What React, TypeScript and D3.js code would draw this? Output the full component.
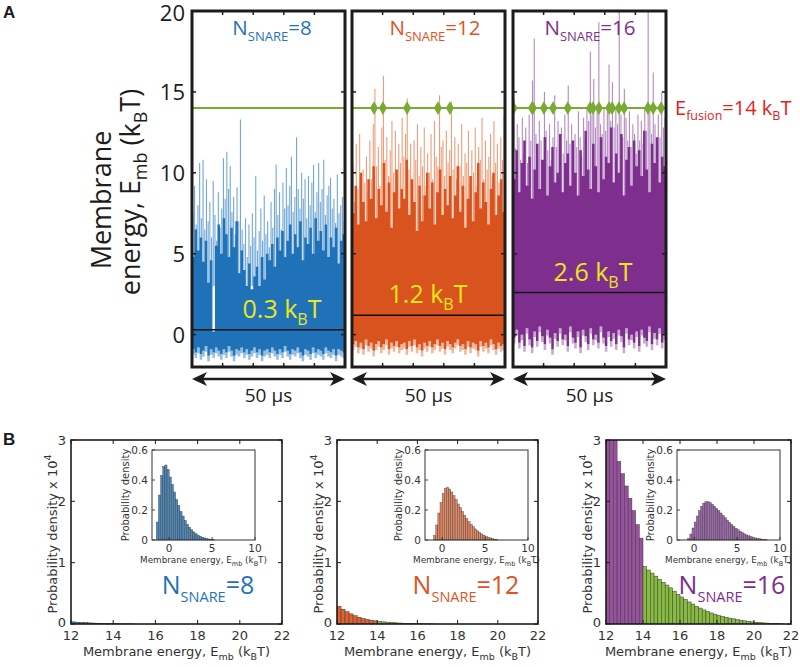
import React from 'react';
import * as d3 from 'd3';

// ---------------- DATA ----------------
const snareCounts = [8, 12, 16];
const meanEnergies = [0.3, 1.2, 2.6];
const fusionEnergy = 14;
const traceSpanUs = 50;
const energyTicks = [0, 5, 10, 15, 20];
const timeTicks = [10, 20, 30, 40];

// Panel A traces: tall excursions (peaks), dense body top, lower floor
const peaks8 = [
  7.5, 9.2, 6.8, 8.0, 10.6, 7.2, 10.8, 6.5, 9.6, 7.0,
  8.2, 6.0, 9.5, 7.4, 5.8, 8.8, 6.6, 7.8, 10.9, 8.4,
  11.3, 9.0, 10.4, 7.6, 8.5, 6.2, 9.1, 7.0, 13.3, 6.5,
  5.6, 7.2, 4.8, 6.8, 5.5, 7.5, 6.0, 9.8, 5.2, 6.4,
  7.8, 5.8, 8.6, 6.2, 7.0, 5.4, 8.2, 6.6, 9.0, 10.5,
  7.4, 8.8, 6.5, 9.4, 7.8, 10.3, 8.0, 9.2, 11.0, 7.6,
  8.5, 12.2, 9.0, 7.8, 10.0, 8.4, 9.6, 7.2, 9.8, 8.0,
  9.4, 10.5, 7.6, 8.8, 10.6, 8.2, 9.0, 10.8, 7.4, 8.6,
  9.2, 9.7, 7.8, 8.4, 6.9, 9.9, 7.5, 8.0, 8.5, 7.0,
];
const body8 = [
  4.8, 6.5, 5.2, 6.0, 4.5, 5.8, 3.2, 4.6, 0.2, 5.5,
  6.8, 5.0, 7.2, 6.2, 4.8, 6.6, 5.4, 7.0, 3.8, 5.2,
  4.0, 3.0, 4.4, 2.8, 3.6, 4.2, 3.0, 4.8, 3.4, 5.0,
  4.6, 5.6, 4.2, 6.0, 5.2, 6.4, 4.8, 5.8, 6.8, 5.0,
  6.2, 5.4, 7.0, 4.6, 6.0, 5.6, 6.6, 5.0, 7.2, 5.8,
  6.4, 5.2, 6.8, 4.8, 6.0, 5.4, 6.6, 4.4, 5.8, 6.2,
];
const floor8 = [
  -0.9, -1.1, -0.8, -1.2, -1.0, -0.7, -1.3, -0.9, -1.1, -0.8,
  -1.0, -1.2, -0.9, -1.1, -0.7, -1.0, -1.3, -0.9, -1.0, -0.8,
  -1.1, -0.9, -1.2, -1.0, -0.8, -1.1, -0.9, -1.3, -1.0, -0.9,
  -1.1, -0.8, -1.0, -1.2, -0.9, -1.1, -0.7, -1.0, -1.2, -0.9,
  -1.0, -0.8, -1.1, -1.3, -0.9, -1.0, -1.2, -0.8, -1.1, -0.9,
  -1.0, -1.2, -0.8, -1.0, -1.1, -0.9, -1.3, -0.9, -1.0, -1.1,
];
const peaks12 = [
  10.5, 8.2, 11.8, 9.0, 12.4, 8.6, 10.2, 9.4, 11.0, 8.8,
  12.0, 9.6, 13.0, 15.2, 10.4, 11.6, 9.2, 12.8, 16.0, 10.8,
  12.2, 9.8, 11.4, 13.2, 10.0, 12.6, 9.4, 11.8, 10.6, 13.4,
  11.0, 12.4, 14.6, 10.2, 11.8, 9.6, 12.0, 10.8, 13.0, 9.8,
  11.6, 10.4, 12.8, 9.2, 11.2, 10.0, 12.4, 9.6, 13.2, 11.0,
  10.4, 14.8, 11.6, 12.0, 9.8, 12.6, 10.6, 11.4, 14.4, 10.2,
  12.2, 9.6, 11.8, 10.4, 13.0, 9.8, 11.2, 10.6, 12.6, 9.4,
  11.4, 10.0, 12.8, 9.2, 11.6, 10.8, 13.4, 9.6, 12.0, 10.2,
  11.0, 12.4, 9.8, 13.2, 10.6, 11.8, 9.4, 12.2, 10.8, 13.6,
];
const body12 = [
  7.5, 9.2, 6.8, 10.0, 8.2, 7.0, 9.6, 8.4, 10.4, 7.2,
  9.0, 8.0, 10.6, 7.6, 9.4, 6.6, 8.8, 10.2, 7.8, 9.0,
  8.4, 10.8, 7.4, 9.6, 8.2, 6.4, 9.2, 7.0, 8.6, 10.0,
  7.8, 9.4, 6.8, 8.8, 10.2, 7.4, 9.0, 8.0, 9.8, 7.2,
  8.6, 10.4, 7.6, 9.2, 6.6, 8.4, 9.8, 7.0, 8.8, 10.6,
  7.8, 9.4, 8.2, 6.8, 9.0, 10.0, 7.4, 8.6, 9.6, 7.6,
];
const floor12 = [
  -0.6, -0.4, -0.8, -0.5, -0.9, -0.3, -0.7, -0.5, -1.0, -0.6,
  -0.4, -0.8, -0.6, -0.3, -0.9, -0.5, -0.7, -0.4, -0.8, -0.6,
  -0.5, -0.9, -0.4, -0.7, -0.3, -0.8, -0.6, -1.0, -0.5, -0.7,
  -0.4, -0.8, -0.6, -0.3, -0.7, -0.5, -0.9, -0.4, -0.6, -0.8,
  -0.5, -0.3, -0.7, -0.6, -0.9, -0.4, -0.8, -0.5, -0.6, -1.0,
  -0.4, -0.7, -0.5, -0.8, -0.3, -0.6, -0.9, -0.5, -0.7, -0.6,
];
const peaks16 = [
  14.6, 11.5, 13.0, 12.2, 10.8, 13.4, 11.2, 12.8, 10.6, 13.6,
  12.0, 15.7, 18.3, 12.4, 11.0, 13.2, 12.0, 10.4, 15.0, 12.6,
  11.4, 13.0, 10.8, 12.2, 14.8, 11.6, 13.2, 10.6, 12.8, 11.2,
  13.6, 12.0, 15.4, 11.8, 13.0, 10.8, 12.4, 11.6, 13.8, 12.2,
  11.0, 13.4, 12.0, 14.0, 13.2, 17.5, 13.6, 15.8, 12.8, 14.2,
  19.3, 13.0, 12.4, 14.0, 12.6, 13.8, 16.7, 13.2, 15.6, 12.8,
  14.0, 13.0, 20.5, 13.6, 12.2, 15.2, 13.4, 12.0, 13.8, 11.6,
  13.0, 12.4, 11.2, 13.6, 12.0, 13.2, 11.8, 14.0, 12.6, 20.5,
  13.8, 12.4, 16.2, 13.0, 11.8, 13.6, 12.2, 15.0, 12.8, 13.4,
];
const body16 = [
  9.6, 11.4, 8.8, 10.6, 12.0, 9.2, 11.0, 8.4, 10.2, 11.8,
  9.0, 10.8, 12.2, 8.6, 10.4, 11.6, 9.4, 10.0, 12.4, 8.8,
  10.6, 11.2, 9.2, 12.0, 10.0, 8.6, 11.4, 9.8, 12.6, 10.2,
  9.0, 11.8, 10.4, 8.8, 12.2, 9.6, 11.0, 10.6, 12.8, 9.4,
  11.2, 10.0, 12.4, 8.6, 10.8, 11.6, 9.2, 12.0, 10.4, 11.4,
  9.8, 12.6, 10.2, 8.8, 11.8, 10.6, 12.2, 9.4, 11.0, 10.4,
];
const floor16 = [
  -0.2, 0.3, -0.5, 0.0, -0.7, 0.4, -0.3, -0.8, 0.2, -0.4,
  0.5, -0.1, -0.6, 0.3, -0.2, -0.9, 0.1, -0.4, 0.4, -0.3,
  0.0, -0.7, 0.5, -0.2, -0.5, 0.2, -0.8, 0.3, -0.1, -0.6,
  0.4, -0.3, 0.0, -0.5, 0.5, -0.2, -0.7, 0.2, -0.4, 0.1,
  -0.6, 0.3, -0.1, -0.8, 0.4, -0.3, 0.0, -0.5, 0.2, -0.7,
  0.3, -0.2, -0.4, 0.5, -0.6, 0.1, -0.3, 0.4, -0.5, 0.0,
];
// fusion events (time in µs where E crosses E_fusion)
const fusionTimes8: number[] = [];
const fusionTimes12 = [7.2, 10.1, 18.0, 28.1, 32.0];
const fusionTimes16 = [0.2, 6.2, 6.5, 10.1, 13.1, 17.9, 25.2, 26.1, 28.1, 31.4, 32.4, 34.6, 36.3, 44.1, 45.8, 48.4];

// Panel B: tail histograms (x 10^4), bins of 0.2 kBT starting at 12
const tailStart = 12;
const tailBin = 0.2;
const tail8 = [0.035, 0.03, 0.026, 0.022, 0.018, 0.015, 0.012, 0.01, 0.008, 0.006, 0.005, 0.004, 0.003, 0.002, 0.0015];
const tail12 = [
  0.29, 0.24, 0.2, 0.165, 0.135, 0.11, 0.09, 0.075, 0.062, 0.052,
  0.043, 0.036, 0.03, 0.025, 0.02, 0.016, 0.013, 0.01, 0.008, 0.006,
  0.005, 0.004, 0.003, 0.002,
];
const tail16 = [
  4.0, 3.5, 3.1, 2.65, 2.45, 2.25, 2.05, 1.85, 1.62, 1.4,
  0.94, 0.88, 0.83, 0.78, 0.73, 0.68, 0.635, 0.59, 0.535, 0.485,
  0.44, 0.4, 0.36, 0.325, 0.29, 0.26, 0.23, 0.205, 0.18, 0.16,
  0.14, 0.125, 0.11, 0.095, 0.085, 0.073, 0.062, 0.052, 0.044, 0.036,
  0.03, 0.024, 0.019, 0.015, 0.011, 0.008, 0.006, 0.004,
];
const tailTicksX = [12, 14, 16, 18, 20, 22];
const tailTicksY = [0, 1, 2, 3];

// Insets: full distributions, bins of 0.25 kBT
const insetBin = 0.25;
const insetStarts = [-1.5, -1.0, -0.75];
const inset8 = [
  0.12, 0.3, 0.43, 0.49, 0.5, 0.47, 0.42, 0.37, 0.32, 0.27,
  0.23, 0.19, 0.16, 0.13, 0.105, 0.085, 0.068, 0.054, 0.042, 0.033,
  0.025, 0.019, 0.014, 0.01, 0.007, 0.005, 0.003,
];
const inset12 = [
  0.03, 0.1, 0.18, 0.25, 0.31, 0.345, 0.35, 0.34, 0.32, 0.295,
  0.27, 0.24, 0.215, 0.19, 0.165, 0.143, 0.122, 0.104, 0.088, 0.074,
  0.061, 0.05, 0.04, 0.032, 0.025, 0.019, 0.014, 0.01, 0.006, 0.004,
];
const inset16 = [
  0.01, 0.04, 0.08, 0.12, 0.16, 0.195, 0.225, 0.245, 0.255, 0.255,
  0.248, 0.238, 0.225, 0.21, 0.195, 0.18, 0.164, 0.148, 0.133, 0.118,
  0.104, 0.091, 0.079, 0.068, 0.058, 0.049, 0.041, 0.034, 0.028, 0.023,
  0.018, 0.014, 0.011, 0.008, 0.006, 0.004, 0.002,
];
const insetTicksX = [0, 5, 10];
const insetTicksY = [0, 0.2, 0.4, 0.6];

// ---------------- STYLE / LAYOUT ----------------
const colors = ['#1f72b8', '#d9531e', '#7e2f8e'];
const peakColors = ['#4f93cf', '#e8875a', '#a36db3'];
const labelColors = ['#1f72b8', '#e0531e', '#7e2f8e'];
const tailColors = ['#2f7fc0', '#e2622f', '#98509f'];
const insetColors = ['#4f88b8', '#e08763', '#9c6aa8'];
const green = '#77ac30';
const tailGreen = '#86bd3e';
const yellow = '#ece61a';
const red = '#e2231a';
const ink = '#1c1c1c';
const fontA = "'Open Sans', sans-serif";
const fontB = "'DejaVu Sans', sans-serif";

const aLeft = [192, 352, 513];
const aWidth = 153;
const aTop = 11;
const aBottom = 367;
const labelCentersA = [272, 435, 590];
const meanLabelCenters = [282, 428, 593];

const bBoxes = [
  { x0: 71, x1: 282 },
  { x0: 337, x1: 538 },
  { x0: 606, x1: 791 },
];
const bTop = 440;
const bBottom = 624;
const insetBoxes = [
  { x0: 152, x1: 255 },
  { x0: 425, x1: 528 },
  { x0: 677, x1: 780 },
];
const insetTop = 450;
const insetBottom = 540;
const labelCentersB = [208, 466, 732];

const traces = [
  { peaks: peaks8, body: body8, floor: floor8, events: fusionTimes8 },
  { peaks: peaks12, body: body12, floor: floor12, events: fusionTimes12 },
  { peaks: peaks16, body: body16, floor: floor16, events: fusionTimes16 },
];
const tails = [tail8, tail12, tail16];
const insets = [inset8, inset12, inset16];

const yA = d3.scaleLinear().domain([-2, 20]).range([aBottom, aTop]);

function TracePanel({ k }: { k: number }) {
  const x0 = aLeft[k];
  const x1 = x0 + aWidth;
  const { peaks, body, floor, events } = traces[k];
  const xt = d3.scaleLinear().domain([0, traceSpanUs]).range([x0, x1]);
  const xp = d3.scaleLinear().domain([0, peaks.length]).range([x0, x1]);
  const xb = d3.scaleLinear().domain([0, body.length]).range([x0, x1]);
  const idx = d3.range(body.length + 1);
  const at = (arr: number[], i: number) => arr[Math.min(i, arr.length - 1)];
  const area = d3
    .area<number>()
    .x((i) => xb(i))
    .y0((i) => yA(at(floor, i)))
    .y1((i) => yA(at(body, i)))
    .curve(d3.curveStepAfter);
  const fringe = d3
    .area<number>()
    .x((i) => xb(i))
    .y0((i) => yA(at(floor, i) - 0.35))
    .y1((i) => yA(at(floor, i)))
    .curve(d3.curveStepAfter);
  const diamond = d3.symbol().type(d3.symbolDiamond).size(55)() as string;
  const clipId = `clipA${k}`;
  return (
    <g>
      <defs>
        <clipPath id={clipId}>
          <rect x={x0} y={aTop} width={aWidth} height={aBottom - aTop} />
        </clipPath>
      </defs>
      <g clipPath={`url(#${clipId})`}>
        {peaks.map((v, i) => (
          <line
            key={i}
            x1={xp(i + 0.5)}
            x2={xp(i + 0.5)}
            y1={yA(3)}
            y2={yA(v)}
            stroke={peakColors[k]}
            strokeWidth={1.1}
            opacity={0.8}
          />
        ))}
        <path d={fringe(idx) as string} fill={peakColors[k]} opacity={0.6} />
        <path d={area(idx) as string} fill={colors[k]} />
        <line x1={x0} x2={x1} y1={yA(meanEnergies[k])} y2={yA(meanEnergies[k])} stroke="#111" strokeWidth={1.6} />
        <line x1={x0} x2={x1} y1={yA(fusionEnergy)} y2={yA(fusionEnergy)} stroke={green} strokeWidth={2} />
        {events.map((t, i) => (
          <path key={i} d={diamond} transform={`translate(${xt(t)},${yA(fusionEnergy)})`} fill={green} />
        ))}
      </g>
      {energyTicks.slice(0, 4).map((v) => (
        <g key={'yt' + v}>
          <line x1={x0} x2={x0 + 4} y1={yA(v)} y2={yA(v)} stroke={ink} strokeWidth={1.5} />
          <line x1={x1 - 4} x2={x1} y1={yA(v)} y2={yA(v)} stroke={ink} strokeWidth={1.5} />
        </g>
      ))}
      {timeTicks.map((t) => (
        <g key={'xt' + t}>
          <line x1={xt(t)} x2={xt(t)} y1={aTop} y2={aTop + 4} stroke={ink} strokeWidth={1.5} />
          <line x1={xt(t)} x2={xt(t)} y1={aBottom - 4} y2={aBottom} stroke={ink} strokeWidth={1.5} />
        </g>
      ))}
      <rect x={x0} y={aTop} width={aWidth} height={aBottom - aTop} fill="none" stroke={ink} strokeWidth={3} />
      <text x={labelCentersA[k]} y={35} textAnchor="middle" fontFamily={fontA} fontSize={20.5} fill={labelColors[k]}>
        N<tspan fontSize={13} dy={6}>SNARE</tspan>
        <tspan dy={-6}>={snareCounts[k]}</tspan>
      </text>
      <text x={meanLabelCenters[k]} y={yA(meanEnergies[k]) - 12} textAnchor="middle" fontFamily={fontA} fontSize={25} fill={yellow}>
        {meanEnergies[k].toFixed(1)} k<tspan fontSize={16} dy={7}>B</tspan>
        <tspan dy={-7}>T</tspan>
      </text>
      <line x1={x0 + 8} x2={x1 - 8} y1={379} y2={379} stroke={ink} strokeWidth={2.5} />
      <path d={`M${x0},379 L${x0 + 15},372 L${x0 + 11},379 L${x0 + 15},386 Z`} fill={ink} />
      <path d={`M${x1},379 L${x1 - 15},372 L${x1 - 11},379 L${x1 - 15},386 Z`} fill={ink} />
      <text x={(x0 + x1) / 2} y={402} textAnchor="middle" fontFamily={fontA} fontSize={19} fill={ink}>
        {traceSpanUs} µs
      </text>
    </g>
  );
}

function TailPanel({ k }: { k: number }) {
  const { x0, x1 } = bBoxes[k];
  const x = d3.scaleLinear().domain([12, 22]).range([x0, x1]);
  const y = d3.scaleLinear().domain([0, 3]).range([bBottom, bTop]);
  const clipId = `clipB${k}`;
  const ib = insetBoxes[k];
  const xi = d3.scaleLinear().domain([-2, 10]).range([ib.x0, ib.x1]);
  const yi = d3.scaleLinear().domain([0, 0.6]).range([insetBottom, insetTop]);
  const bx = (x0 + x1) / 2;
  return (
    <g>
      <defs>
        <clipPath id={clipId}>
          <rect x={x0} y={bTop} width={x1 - x0} height={bBottom - bTop} />
        </clipPath>
      </defs>
      <rect x={x0} y={bTop} width={x1 - x0} height={bBottom - bTop} fill="#fff" />
      <g clipPath={`url(#${clipId})`}>
        {tails[k].map((v, i) => {
          const a = tailStart + i * tailBin;
          const isFusion = a >= fusionEnergy - 1e-9;
          return (
            <rect
              key={i}
              x={x(a)}
              width={x(a + tailBin) - x(a)}
              y={y(v)}
              height={bBottom - y(v)}
              fill={isFusion ? tailGreen : tailColors[k]}
              stroke="#3a3a3a"
              strokeWidth={0.5}
            />
          );
        })}
      </g>
      {tailTicksY.map((v) => (
        <g key={'y' + v}>
          <line x1={x0} x2={x0 + 4} y1={y(v)} y2={y(v)} stroke={ink} />
          <line x1={x1 - 4} x2={x1} y1={y(v)} y2={y(v)} stroke={ink} />
          <text x={x0 - 5} y={y(v) - (v === 0 ? 2 : 0)} dy="0.36em" textAnchor="end" fontFamily={fontB} fontSize={13} fill="#333">
            {v}
          </text>
        </g>
      ))}
      {tailTicksX.map((v) => (
        <g key={'x' + v}>
          <line x1={x(v)} x2={x(v)} y1={bBottom} y2={bBottom - 4} stroke={ink} />
          <line x1={x(v)} x2={x(v)} y1={bTop} y2={bTop + 4} stroke={ink} />
          <text x={x(v)} y={640} textAnchor="middle" fontFamily={fontB} fontSize={13} fill="#333">
            {v}
          </text>
        </g>
      ))}
      <rect x={x0} y={bTop} width={x1 - x0} height={bBottom - bTop} fill="none" stroke={ink} strokeWidth={1.6} />
      <text x={bx} y={656} textAnchor="middle" fontFamily={fontB} fontSize={13} fill="#333">
        Membrane energy, E<tspan fontSize={9.5} dy={4}>mb</tspan>
        <tspan dy={-4}> (k</tspan>
        <tspan fontSize={9.5} dy={4}>B</tspan>
        <tspan dy={-4}>T)</tspan>
      </text>
      <text transform={`translate(${x0 - 14},${(bTop + bBottom) / 2 + 2}) rotate(-90)`} textAnchor="middle" fontFamily={fontB} fontSize={13} fill="#333">
        Probability density x 10<tspan fontSize={9.5} dy={-6}>4</tspan>
      </text>
      <rect x={ib.x0} y={insetTop} width={ib.x1 - ib.x0} height={insetBottom - insetTop} fill="#fff" />
      {insets[k].map((v, i) => {
        const a = insetStarts[k] + i * insetBin;
        return (
          <rect
            key={i}
            x={xi(a)}
            width={xi(a + insetBin) - xi(a)}
            y={yi(v)}
            height={insetBottom - yi(v)}
            fill={insetColors[k]}
            stroke="#2e2e2e"
            strokeWidth={0.35}
          />
        );
      })}
      {insetTicksY.map((v) => (
        <g key={'iy' + v}>
          <line x1={ib.x0} x2={ib.x0 + 3} y1={yi(v)} y2={yi(v)} stroke={ink} strokeWidth={0.8} />
          <text x={ib.x0 - 4} y={yi(v)} dy="0.36em" textAnchor="end" fontFamily={fontB} fontSize={10.5} fill="#333">
            {v}
          </text>
        </g>
      ))}
      {insetTicksX.map((v) => (
        <g key={'ix' + v}>
          <line x1={xi(v)} x2={xi(v)} y1={insetBottom} y2={insetBottom - 3} stroke={ink} strokeWidth={0.8} />
          <text x={xi(v)} y={insetBottom + 12} textAnchor="middle" fontFamily={fontB} fontSize={10.5} fill="#333">
            {v}
          </text>
        </g>
      ))}
      <rect x={ib.x0} y={insetTop} width={ib.x1 - ib.x0} height={insetBottom - insetTop} fill="none" stroke="#333" strokeWidth={1} />
      <text x={(ib.x0 + ib.x1) / 2} y={insetBottom + 23} textAnchor="middle" fontFamily={fontB} fontSize={8.8} fill="#333">
        Membrane energy, E<tspan fontSize={6.5} dy={3}>mb</tspan>
        <tspan dy={-3}> (k</tspan>
        <tspan fontSize={6.5} dy={3}>B</tspan>
        <tspan dy={-3}>T)</tspan>
      </text>
      <text transform={`translate(${ib.x0 - 23},${(insetTop + insetBottom) / 2}) rotate(-90)`} textAnchor="middle" fontFamily={fontB} fontSize={10} fill="#333">
        Probability density
      </text>
      <text x={labelCentersB[k]} y={594} textAnchor="middle" fontFamily={fontA} fontSize={25} fill={labelColors[k]}>
        N<tspan fontSize={14.5} dy={8}>SNARE</tspan>
        <tspan dy={-8}>={snareCounts[k]}</tspan>
      </text>
    </g>
  );
}

export default function App() {
  return (
    <svg
      width={800}
      height={667}
      viewBox="0 0 800 667"
      style={{ position: 'absolute', left: 0, top: 0, background: '#fff' }}
    >
      <rect x={0} y={0} width={800} height={667} fill="#fff" />
      <text x={3} y={18} fontFamily="'Liberation Sans', Arial, sans-serif" fontWeight="bold" fontSize={17} fill={ink}>
        A
      </text>
      <text x={3} y={445} fontFamily="'Liberation Sans', Arial, sans-serif" fontWeight="bold" fontSize={17} fill={ink}>
        B
      </text>
      {energyTicks.map((v) => (
        <text key={v} x={185} y={yA(v) + (v === 20 ? 2 : 0)} dy="0.36em" textAnchor="end" fontFamily={fontA} fontSize={22} fill={ink}>
          {v}
        </text>
      ))}
      <text transform="translate(111,200) rotate(-90)" textAnchor="middle" fontFamily={fontA} fontSize={27} fill={ink}>
        Membrane
      </text>
      <text transform="translate(140,192) rotate(-90)" textAnchor="middle" fontFamily={fontA} fontSize={27} fill={ink}>
        energy, E<tspan fontSize={18} dy={7}>mb</tspan>
        <tspan dy={-7}> (k</tspan>
        <tspan fontSize={18} dy={7}>B</tspan>
        <tspan dy={-7}>T)</tspan>
      </text>
      {[0, 1, 2].map((k) => (
        <TracePanel key={k} k={k} />
      ))}
      <text x={675} y={115} fontFamily={fontA} fontSize={20} fill={red}>
        E<tspan fontSize={12.5} dy={5}>fusion</tspan>
        <tspan dy={-5}>={fusionEnergy} k</tspan>
        <tspan fontSize={12.5} dy={5}>B</tspan>
        <tspan dy={-5}>T</tspan>
      </text>
      {[0, 1, 2].map((k) => (
        <TailPanel key={k} k={k} />
      ))}
    </svg>
  );
}
